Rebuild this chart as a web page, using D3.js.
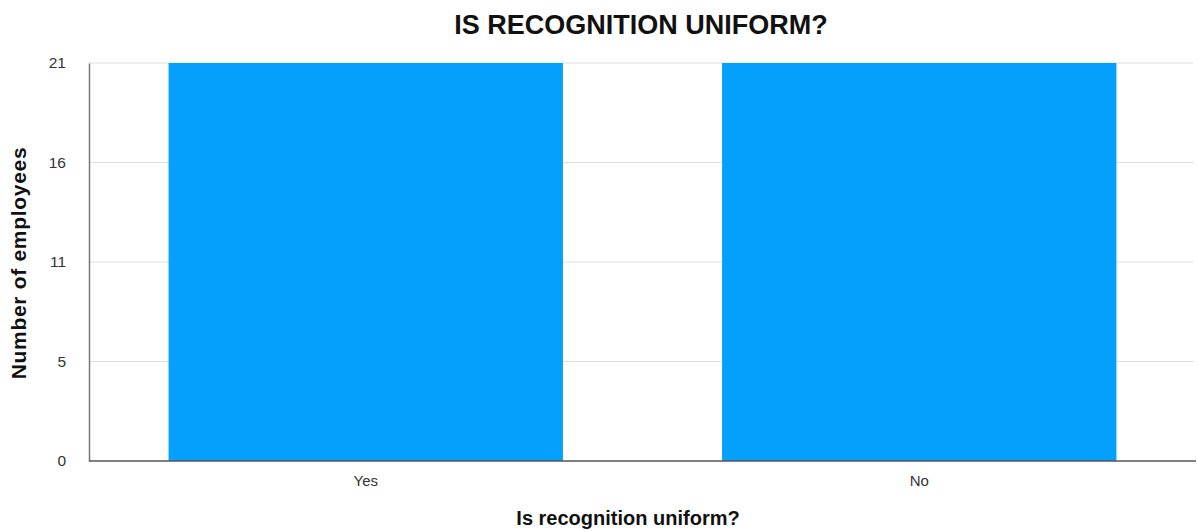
<!DOCTYPE html>
<html><head><meta charset="utf-8">
<script src="https://cdn.jsdelivr.net/npm/d3@7"></script>
<style>body{margin:0;background:#fff}svg{display:block}text{font-family:"Liberation Sans",Arial,sans-serif}</style>
</head><body>
<svg id="c" width="1197" height="531"></svg>
<script>
const categories = ["Yes", "No"];
const values = [21, 21];
const tickValues = [0, 5.25, 10.5, 15.75, 21];
const tickLabels = ["0", "5", "11", "16", "21"];
const title = "IS RECOGNITION UNIFORM?";
const xTitle = "Is recognition uniform?";
const yTitle = "Number of employees";

(function () {
const svg = d3.select("#c");
const mLeft = 89, mRight = 1196, mTop = 63, mBottom = 461;
const x = d3.scaleBand().domain(categories).range([mLeft, mRight]).paddingInner(0.2875).paddingOuter(0.14375);
const y = d3.scaleLinear().domain([0, 21]).range([mBottom, mTop]);

// gridlines
svg.append("g").selectAll("line").data(tickValues.slice(1)).join("line")
  .attr("x1", mLeft).attr("x2", 1193).attr("y1", d => y(d)).attr("y2", d => y(d))
  .attr("stroke", "#dedede").attr("stroke-width", 1);

// bars
svg.append("g").selectAll("rect").data(values).join("rect")
  .attr("x", (d, i) => x(categories[i])).attr("width", x.bandwidth())
  .attr("y", d => y(d)).attr("height", d => y(0) - y(d))
  .attr("fill", "#04a0fc");

// y axis
const yAxis = d3.axisLeft(y).tickValues(tickValues).tickSize(0).tickPadding(23)
  .tickFormat((d, i) => tickLabels[i]);
const gy = svg.append("g").attr("transform", `translate(${mLeft},0)`).call(yAxis);
gy.select(".domain").attr("stroke", "#777").attr("stroke-width", 1.5);
gy.selectAll("text").attr("font-size", 15.5).attr("fill", "#333");

// x axis
const xAxis = d3.axisBottom(x).tickSize(0).tickPadding(14);
const gx = svg.append("g").attr("transform", `translate(0,${mBottom})`).call(xAxis);
gx.select(".domain").attr("stroke", "#555").attr("stroke-width", 1.5).attr("d", `M${mLeft},0H${mRight}`);
gx.selectAll("text").attr("font-size", 15).attr("fill", "#333");

// titles
svg.append("text").attr("x", 641).attr("y", 34).attr("text-anchor", "middle")
  .attr("font-size", 27).attr("font-weight", "bold").attr("fill", "#111").text(title);
svg.append("text").attr("x", 628).attr("y", 525).attr("text-anchor", "middle")
  .attr("font-size", 20).attr("font-weight", "bold").attr("fill", "#111").text(xTitle);
svg.append("text").attr("transform", "translate(26,263) rotate(-90)").attr("text-anchor", "middle")
  .attr("font-size", 21).attr("letter-spacing", 0.7).attr("font-weight", "bold").attr("fill", "#111").text(yTitle);
})();
</script>
</body></html>
